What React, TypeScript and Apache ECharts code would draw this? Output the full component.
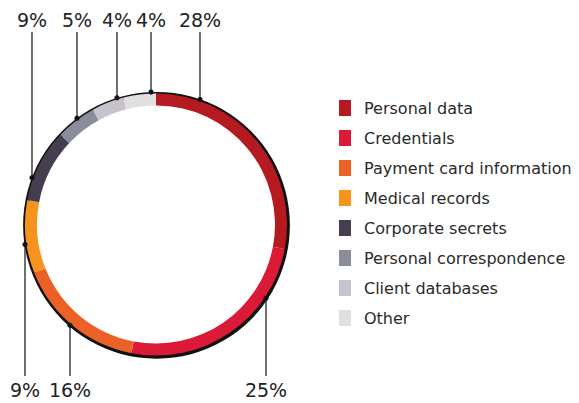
import React, { useEffect, useRef } from "react";
import * as echarts from "echarts";

const categories = [
  "Personal data",
  "Credentials",
  "Payment card information",
  "Medical records",
  "Corporate secrets",
  "Personal correspondence",
  "Client databases",
  "Other",
];
const values = [28, 25, 16, 9, 9, 5, 4, 4];
const colors = ["#B51A21", "#DA1A37", "#EB6127", "#F6931F", "#443E4E", "#8A8D9A", "#C8C2CD", "#E0E0E2"];
const labelAnchorX = [200, 266, 70, 25, 32, 77, 117, 151];
const labelSide = ["top", "bottom", "bottom", "bottom", "top", "top", "top", "top"];

const CX = 156;
const CY = 224.5;
const R_IN = 119;
const R_OUT = 131;
const R_LINE = 132.5;
const FONT = "'DejaVu Sans', sans-serif";

function ringY(x: number, side: string) {
  const dx = x - CX;
  const h = Math.sqrt(Math.max(0, R_LINE * R_LINE - dx * dx));
  return side === "top" ? CY - h : CY + h;
}

export default function App() {
  const ref = useRef<HTMLDivElement>(null);
  useEffect(() => {
    if (!ref.current) return;
    const chart = echarts.init(ref.current, null, { renderer: "svg" });
    const dots = labelAnchorX.map((x, i) => ({
      type: "circle",
      shape: { cx: x, cy: ringY(x, labelSide[i]), r: 2.6 },
      style: { fill: "#111" },
      z: 100,
    }));
    chart.setOption({
      animation: false,
      backgroundColor: "#ffffff",
      legend: {
        orient: "vertical",
        left: 339,
        top: 100,
        padding: 0,
        itemWidth: 12,
        itemHeight: 16,
        itemGap: 14,
        icon: "rect",
        data: categories,
        selectedMode: false,
        textStyle: {
          fontSize: 16,
          color: "#2a2a2a",
          fontFamily: FONT,
          lineHeight: 16,
          padding: [0, 0, 0, 8],
        },
      },
      graphic: dots,
      series: [
        {
          type: "pie",
          silent: true,
          center: [CX + 0.5, CY + 0.8],
          radius: [R_OUT - 2, R_OUT + 2.4],
          label: { show: false },
          labelLine: { show: false },
          itemStyle: { color: "#111" },
          data: [{ value: 1, name: "__outline" }],
          z: 1,
        },
        {
          type: "pie",
          center: [CX, CY],
          radius: [R_IN, R_OUT],
          startAngle: 90,
          clockwise: true,
          avoidLabelOverlap: false,
          z: 2,
          data: categories.map((name, i) => ({
            name,
            value: values[i],
            itemStyle: { color: colors[i] },
          })),
          label: {
            show: true,
            position: "outside",
            formatter: "{c}%",
            fontSize: 19,
            color: "#222",
            fontFamily: FONT,
          },
          labelLine: {
            show: true,
            smooth: false,
            lineStyle: { color: "#222", width: 1.3 },
          },
          labelLayout: (params: any) => {
            const i = params.dataIndex;
            const x = labelAnchorX[i];
            const side = labelSide[i];
            const y = side === "top" ? 20 : 390;
            const endY = side === "top" ? 32 : 376;
            const sy = ringY(x, side);
            return {
              x,
              y,
              align: "center",
              verticalAlign: "middle",
              labelLinePoints: [
                [x, sy],
                [x, endY],
                [x, endY],
              ],
            };
          },
          emphasis: { disabled: true },
        },
      ],
    });
    return () => chart.dispose();
  }, []);
  return (
    <div
      ref={ref}
      style={{ position: "fixed", left: 0, top: 0, width: 579, height: 403 }}
    />
  );
}
